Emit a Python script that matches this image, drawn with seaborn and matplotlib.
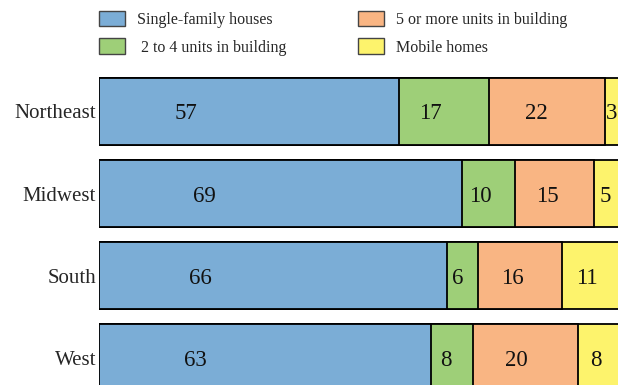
import matplotlib
matplotlib.use("Agg")
import matplotlib.pyplot as plt
from matplotlib.patches import Patch
import numpy as np
import pandas as pd
import seaborn as sns

regions = ["Northeast", "Midwest", "South", "West"]
series = ["Single-family houses", "2 to 4 units in building",
          "5 or more units in building", "Mobile homes"]
single_family = [57, 69, 66, 63]
two_to_four = [17, 10, 6, 8]
five_plus = [22, 15, 16, 20]
mobile = [3, 5, 11, 8]

colors = ["#7badd6", "#9ecf78", "#f9b583", "#fdf36c"]
# labels in the source sit left of centre inside each segment
label_frac = [0.29, 0.35, 0.41, 0.42]

sns.set_style("white")
plt.rcParams["font.family"] = ["Liberation Serif", "DejaVu Serif"]

values = np.array([single_family, two_to_four, five_plus, mobile], dtype=float)
cum = values.cumsum(axis=0)
starts = cum - values

df = pd.DataFrame({"region": regions})
for i, name in enumerate(series):
    df[name] = cum[i]

W, H = 618, 385
fig = plt.figure(figsize=(W / 100, H / 100), dpi=100)
left = 99.3 / W
ax = fig.add_axes([left, 0, 1 - left, 1])

# draw cumulative totals from the longest down so each segment shows
for i in range(len(series) - 1, -1, -1):
    sns.barplot(data=df, x=series[i], y="region", orient="h", color=colors[i],
                width=0.82, edgecolor="black", linewidth=1.3, saturation=1,
                ax=ax)

for i in range(len(series)):
    for j in range(len(regions)):
        x = starts[i, j] + label_frac[i] * values[i, j]
        ax.text(x, j + 0.03, f"{int(values[i, j])}", ha="center", va="center",
                fontsize=16.5, color="#111111")

ax.set_xlim(0, 98.56)
ax.set_ylim(3.329, -1.3546)
ax.set_xlabel("")
ax.set_ylabel("")
ax.set_xticks([])
ax.tick_params(axis="y", left=False, labelsize=15, pad=-1.2)
for s in ax.spines.values():
    s.set_visible(False)

handles = [Patch(facecolor=c, edgecolor="#444444", linewidth=1.0) for c in colors]
labels = [series[0], " " + series[1], series[2], series[3]]
fig.legend(handles, labels, loc="upper left", ncol=2,
           bbox_to_anchor=(99 / W, 1 - 11 / H), frameon=False,
           fontsize=11.5, handlelength=1.63, handleheight=1.1,
           handletextpad=0.75, labelspacing=0.65, columnspacing=4.5,
           borderpad=0, borderaxespad=0)

fig.savefig("out.png", dpi=100)
